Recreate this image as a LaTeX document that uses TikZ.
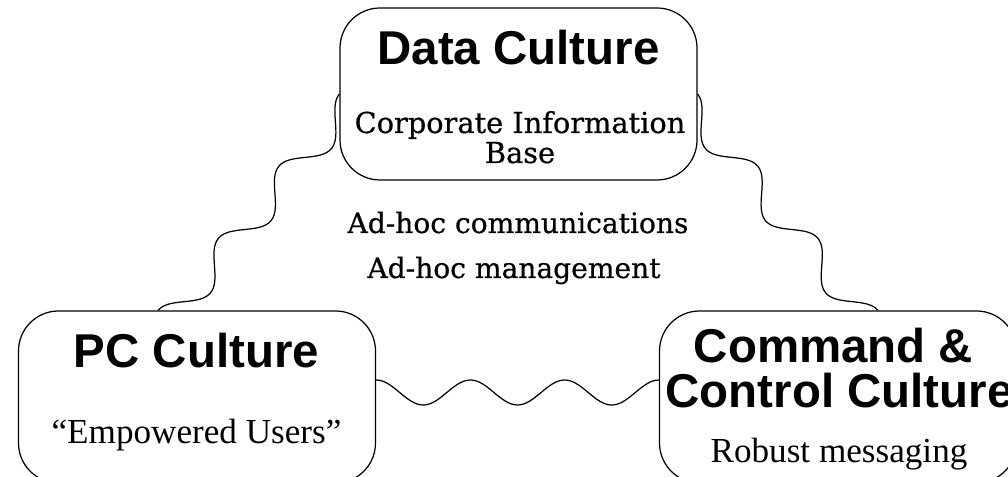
\documentclass[tikz,border=0pt]{standalone}
\usepackage{fontspec}
\setmainfont{Liberation Serif}
\newfontfamily\headfont{Liberation Sans}
\newfontfamily\notefont[FakeBold=0.6]{DejaVu Serif}
\usetikzlibrary{decorations}

% three cosine bumps, bulging to the right of the path
\pgfdeclaredecoration{ripple}{initial}{%
  \state{initial}[width=\pgfdecoratedpathlength/3-0.01pt]{%
    \pgfpathcosine{\pgfpoint{\pgfdecoratedpathlength/12}{-\pgfdecorationsegmentamplitude}}%
    \pgfpathsine{\pgfpoint{\pgfdecoratedpathlength/12}{-\pgfdecorationsegmentamplitude}}%
    \pgfpathcosine{\pgfpoint{\pgfdecoratedpathlength/12}{\pgfdecorationsegmentamplitude}}%
    \pgfpathsine{\pgfpoint{\pgfdecoratedpathlength/12}{\pgfdecorationsegmentamplitude}}%
  }%
  \state{final}{\pgfpathlineto{\pgfpointdecoratedpathlast}}%
}

\tikzset{
  culture/.style={draw, line width=0.7pt, rounded corners=0.8cm,
    minimum width=7.14cm, minimum height=3.44cm},
  head/.style={font=\headfont\bfseries\fontsize{27}{30}\selectfont, anchor=base, inner sep=0pt},
  motto/.style={font=\fontsize{20}{24}\selectfont, anchor=base, inner sep=0pt},
  note/.style={font=\notefont\fontsize{16}{19}\selectfont, anchor=base, inner sep=0pt},
  link/.style={line width=0.7pt, decorate, decoration={ripple, amplitude=0.29cm}}
}

\begin{document}
\begin{tikzpicture}
		\useasboundingbox (0,0) rectangle (20.16,-9.54);
		\clip (0,0) rectangle (20.16,-9.54);
		% the three boxes
		\node[culture] (data) at (10.37,-1.88) {};
		\node[culture] (pc) at (3.94,-7.94) {};
		\node[culture] (cmd) at (16.76,-7.94) {};
		% texts in the boxes
		\node[head] (datahead) at (10.37,-1.30) {Data Culture};
		\node[note, font=\notefont\fontsize{16.4}{19}\selectfont] (datanote1) at (10.40,-2.66) {Corporate Information};
		\node[note, font=\notefont\fontsize{16.4}{19}\selectfont] (datanote2) at (10.40,-3.26) {Base};
		\node[head] (pchead) at (3.93,-7.36) {PC Culture};
		\node[motto] (pcnote) at (3.93,-8.86) {``Empowered Users''};
		\node[head] (cmdhead1) at (16.67,-7.26) {Command \&};
		\node[head] (cmdhead2) at (16.79,-8.16) {Control Culture};
		\node[motto] (cmdnote) at (16.78,-9.24) {Robust messaging};
		% middle
		\node[note] (adhoc1) at (10.36,-4.66) {Ad-hoc communications};
		\node[note] (adhoc2) at (10.28,-5.56) {Ad-hoc management};
		% wavy links
		\draw[link] ([xshift=-0.78cm]pc.north) -- (data.west);
		\draw[link] (data.east) -- ([xshift=0.80cm]cmd.north);
		\draw[link, decoration={ripple, amplitude=0.25cm}] ([yshift=0.34cm]pc.east) -- ([yshift=0.34cm]cmd.west);
\end{tikzpicture}
\end{document}
